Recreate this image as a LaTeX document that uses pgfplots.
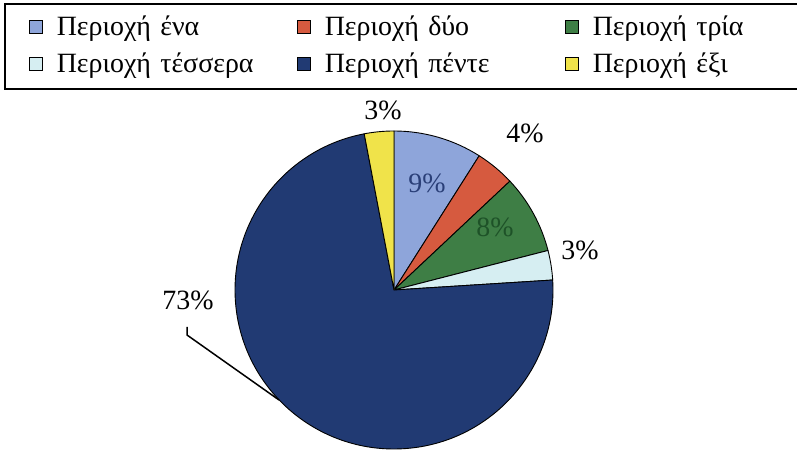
\documentclass[border=0pt]{standalone}
\usepackage{pgfplots}
\pgfplotsset{compat=1.18}
\usepackage{fontspec}
\setmainfont{Liberation Serif}
\definecolor{c1}{HTML}{8EA5DA}
\definecolor{c2}{HTML}{D65A3F}
\definecolor{c3}{HTML}{3E7E45}
\definecolor{c4}{HTML}{D6EEF2}
\definecolor{c5}{HTML}{213A73}
\definecolor{c6}{HTML}{F0E34A}
\definecolor{t1}{HTML}{2A3F78}
\definecolor{t3}{HTML}{1E5228}
% slice: cumulative start (%), share (%), colour
\newcommand{\slice}[3]{%
  \filldraw[fill=#3, draw=black, line width=0.9bp, line join=round]
    (axis cs:394,161) -- ++({90-3.6*(#1)}:159bp)
    arc[start angle={90-3.6*(#1)}, delta angle={-3.6*(#2)}, radius=159bp] -- cycle;}
\begin{document}
\begin{tikzpicture}
\begin{axis}[
  hide axis, clip=false, disabledatascaling,
  x=1bp, y=1bp, xmin=0, xmax=797, ymin=0, ymax=451,
  legend columns=3, legend cell align=left,
  legend image code/.code={\draw[#1, draw=black, line width=1bp] (0bp,-6bp) rectangle (13bp,7bp);},
  legend style={at={(axis cs:4,448)}, anchor=north west, draw=black, line width=1.6bp,
    inner xsep=24bp, inner ysep=12bp, font=\fontsize{28}{32}\selectfont,
    /tikz/row sep=13bp,
    /tikz/every odd column/.append style={column sep=14bp},
    /tikz/every even column/.append style={column sep=30bp},
    nodes={inner sep=0pt, text width=210bp, text height=20bp, text depth=4bp},
    /tikz/column 6/.style={nodes={text width=183bp}}},
]
\addlegendimage{fill=c1}\addlegendentry{Περιοχή ένα}
\addlegendimage{fill=c2}\addlegendentry{Περιοχή δύο}
\addlegendimage{fill=c3}\addlegendentry{Περιοχή τρία}
\addlegendimage{fill=c4}\addlegendentry{Περιοχή τέσσερα}
\addlegendimage{fill=c5}\addlegendentry{Περιοχή πέντε}
\addlegendimage{fill=c6}\addlegendentry{Περιοχή έξι}
\slice{0}{9}{c1}
\slice{9}{4}{c2}
\slice{13}{8}{c3}
\slice{21}{3}{c4}
\slice{24}{73}{c5}
\slice{97}{3}{c6}
\node[font=\fontsize{28}{32}\selectfont, text=t1] at (axis cs:427,268) {9\%};
\node[font=\fontsize{28}{32}\selectfont] at (axis cs:525,318) {4\%};
\node[font=\fontsize{28}{32}\selectfont, text=t3] at (axis cs:495,224) {8\%};
\node[font=\fontsize{28}{32}\selectfont] at (axis cs:580,201) {3\%};
\node[font=\fontsize{28}{32}\selectfont] at (axis cs:188,151) {73\%};
\node[font=\fontsize{28}{32}\selectfont] at (axis cs:383,341) {3\%};
\draw[line width=1.5bp] (axis cs:187,124) -- (axis cs:187,116) -- (axis cs:279,51);
\end{axis}
\pgfresetboundingbox
\useasboundingbox (current axis.south west) rectangle (current axis.north east);
\end{tikzpicture}
\end{document}
